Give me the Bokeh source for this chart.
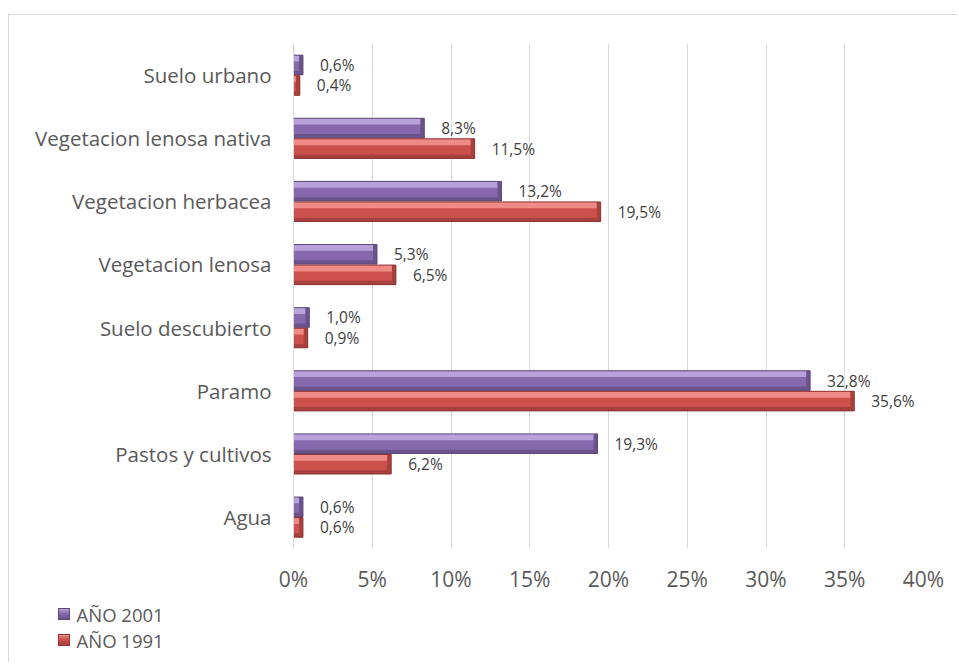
from bokeh.plotting import figure
from bokeh.layouts import column
from bokeh.models import (Range1d, FactorRange, FixedTicker, ColumnDataSource, Div)
from bokeh.transform import dodge
from bokeh.core.properties import value
from bokeh.embed import file_html
from bokeh.resources import INLINE

# ---- data ----
categories = ["Suelo urbano", "Vegetacion lenosa nativa", "Vegetacion herbacea",
              "Vegetacion lenosa", "Suelo descubierto", "Paramo",
              "Pastos y cultivos", "Agua"]
anio_2001 = [0.6, 8.3, 13.2, 5.3, 1.0, 32.8, 19.3, 0.6]
anio_1991 = [0.4, 11.5, 19.5, 6.5, 0.9, 35.6, 6.2, 0.6]
labels_2001 = ["0,6%", "8,3%", "13,2%", "5,3%", "1,0%", "32,8%", "19,3%", "0,6%"]
labels_1991 = ["0,4%", "11,5%", "19,5%", "6,5%", "0,9%", "35,6%", "6,2%", "0,6%"]
x_ticks = [0, 5, 10, 15, 20, 25, 30, 35, 40]
x_tick_labels = ["0%", "5%", "10%", "15%", "20%", "25%", "30%", "35%", "40%"]
series_names = ["AÑO 2001", "AÑO 1991"]

FONT = "Open Sans"
TXT = "#595959"
BORDER = "1.5px solid #d9d9d9"

src = ColumnDataSource(dict(
    cat=categories, v01=anio_2001, v91=anio_1991,
    l01=labels_2001, l91=labels_1991,
    e01=[max(v - 0.25, 0) for v in anio_2001],
    e91=[max(v - 0.25, 0) for v in anio_1991],
))

# main chart: placed at (8,14), content starts at (9.5,15.5)
p = figure(width=949, height=580,
           y_range=FactorRange(factors=list(reversed(categories)), range_padding=0),
           x_range=Range1d(0, 40),
           output_backend="svg", toolbar_location=None,
           min_border_left=284, min_border_right=35,
           min_border_top=28, min_border_bottom=47)
p.margin = (14, 0, 0, 8)
p.styles = {"border-top": BORDER, "border-left": BORDER}
p.outline_line_color = None
p.background_fill_color = "white"
p.border_fill_color = "white"

styles = {
    "01": dict(val="v01", end="e01", off=0.16, main="#8668AC", hi="#B9A2DB",
               lo="#6B548E", edge="#5C4775"),
    "91": dict(val="v91", end="e91", off=-0.165, main="#CC504C", hi="#F08A86",
               lo="#A8403D", edge="#8E3431"),
}
H = 0.31
for key, s in styles.items():
    off = s["off"]
    p.hbar(y=dodge("cat", off, range=p.y_range), left=0, right=s["val"],
           height=H, source=src, fill_color=s["main"], line_color=None)
    top_c = off + H / 2 - 0.05
    p.hbar(y=dodge("cat", top_c, range=p.y_range), left=0, right=s["val"],
           height=0.10, source=src, fill_color=s["hi"], line_color=None)
    bot_c = off - H / 2 + 0.03
    p.hbar(y=dodge("cat", bot_c, range=p.y_range), left=0, right=s["val"],
           height=0.06, source=src, fill_color=s["lo"], line_color=None)
    p.hbar(y=dodge("cat", off, range=p.y_range), left=s["end"], right=s["val"],
           height=H, source=src, fill_color=s["lo"], line_color=None)
    p.hbar(y=dodge("cat", off, range=p.y_range), left=0, right=s["val"],
           height=H, source=src, fill_color=None, line_color=s["edge"], line_width=1)

# data labels
for val, lab, off in (("v01", "l01", 0.16), ("v91", "l91", -0.165)):
    p.text(x=val, y=dodge("cat", off, range=p.y_range), text=lab, source=src,
           x_offset=17, text_align="left", text_baseline="middle",
           text_font=value(FONT), text_font_size="15.5px", text_color="#404040")

# axes
p.xaxis.ticker = FixedTicker(ticks=x_ticks)
p.xaxis.major_label_overrides = {t: l for t, l in zip(x_ticks, x_tick_labels)}
p.xaxis.axis_line_color = None
p.xaxis.major_tick_line_color = None
p.xaxis.minor_tick_line_color = None
p.xaxis.major_tick_out = 0
p.xaxis.major_label_standoff = 16
p.xaxis.major_label_text_font = FONT
p.xaxis.major_label_text_font_size = "21px"
p.xaxis.major_label_text_color = TXT

p.yaxis.axis_line_color = "#d9d9d9"
p.yaxis.major_tick_line_color = None
p.yaxis.minor_tick_line_color = None
p.yaxis.major_tick_out = 0
p.yaxis.major_label_standoff = 22
p.yaxis.major_label_text_font = FONT
p.yaxis.major_label_text_font_size = "20.5px"
p.yaxis.major_label_text_color = TXT

p.xgrid.grid_line_color = "#d9d9d9"
p.ygrid.grid_line_color = None

# legend strip under the chart
rows = []
for i, (key, name) in enumerate(zip(("01", "91"), series_names)):
    s = styles[key]
    sq_top = 14 + 25.5 * i
    tx_top = 11 + 25.5 * i
    rows.append(
        f'<div style="position:absolute;left:48.5px;top:{sq_top}px;width:12px;height:12px;'
        f'border:1px solid {s["edge"]};'
        f'background:linear-gradient(to bottom,{s["hi"]} 0%,{s["main"]} 45%,{s["lo"]} 100%);"></div>'
        f'<div style="position:absolute;left:67.5px;top:{tx_top}px;line-height:20px;height:20px;'
        f'font-family:\'{FONT}\';font-size:18.5px;color:{TXT};white-space:nowrap;">{name}</div>'
    )
legend_div = Div(text='<div style="position:relative;width:949px;height:68px;">'
                 + "".join(rows) + "</div>",
                 width=949, height=68)
legend_div.margin = (0, 0, 0, 8)
legend_div.styles = {"border-left": BORDER}

layout = column(p, legend_div, spacing=0)
open("out.html", "w").write(file_html(layout, INLINE))
